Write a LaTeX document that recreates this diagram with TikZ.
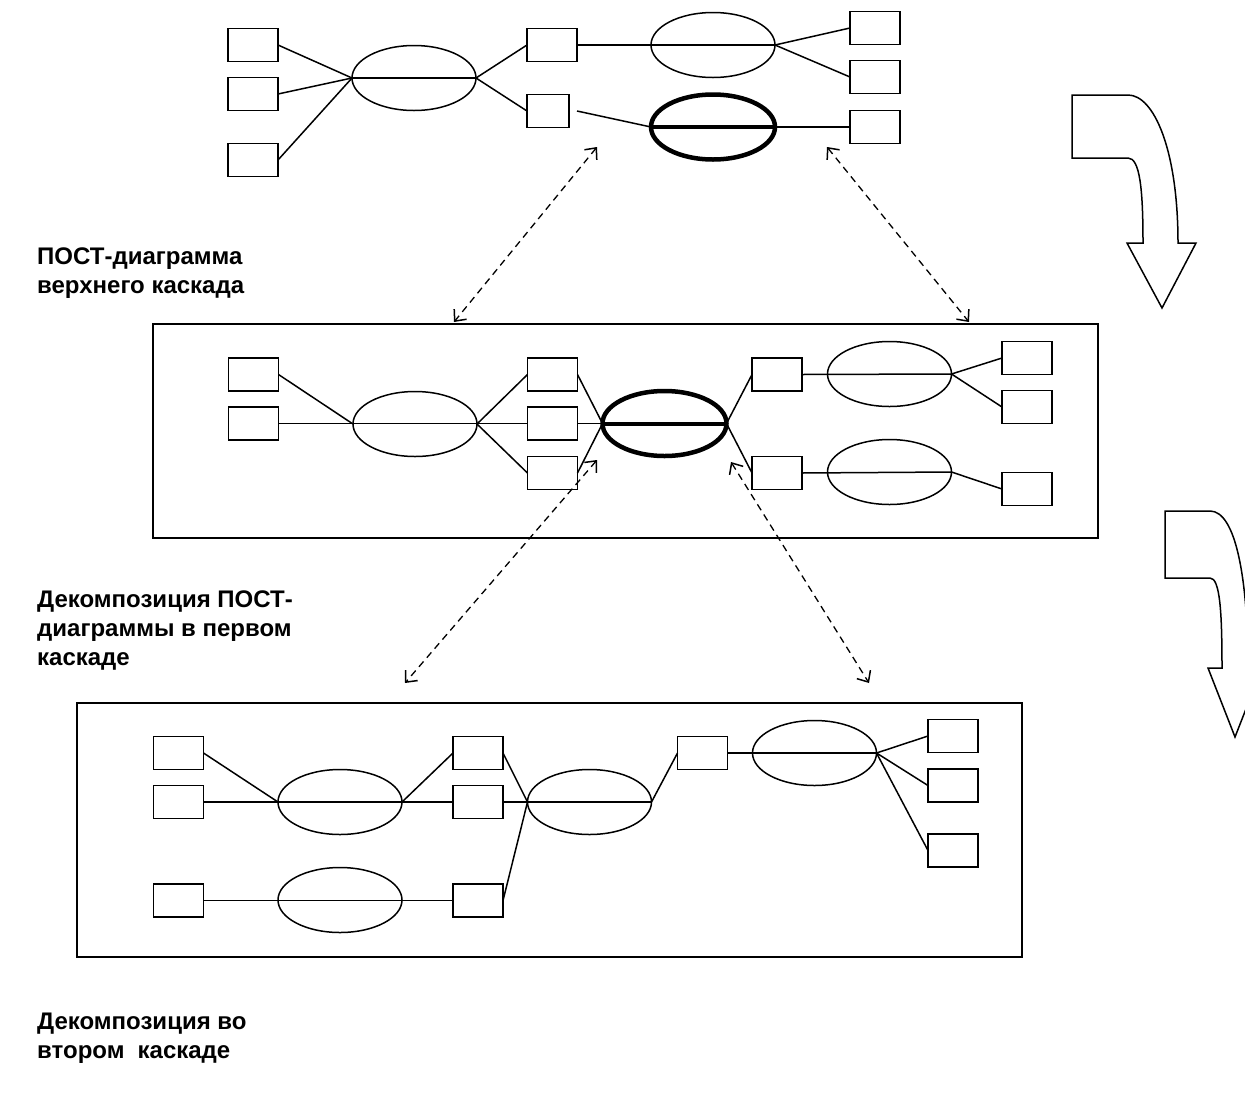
\documentclass[tikz,border=0pt]{standalone}
\usepackage{fontspec}
\setmainfont{Liberation Sans}
\usetikzlibrary{shapes.geometric,arrows.meta}
\begin{document}
\begin{tikzpicture}[x=1pt,y=-1pt,
  lw/.style={line width=1.5pt},
  bx/.style={draw,lw,minimum width=50pt,minimum height=33pt,inner sep=0pt,outer sep=0pt},
  bxn/.style={bx,minimum width=42pt},
  el/.style={draw,lw,ellipse,minimum width=124pt,minimum height=65pt,inner sep=0pt,outer sep=0pt},
  elt/.style={el,line width=4.5pt},
  ln/.style={lw},
  lnt/.style={line width=4pt},
  frm/.style={draw,line width=1.7pt,inner sep=0pt,outer sep=0pt},
  dsh/.style={line width=1.3pt,dash pattern=on 7pt off 5pt,{Straight Barb[length=9pt,width=16pt,line width=1.5pt]}-{Straight Barb[length=9pt,width=16pt,line width=1.5pt]}},
  lbl/.style={anchor=north west,align=left,inner sep=0pt,font=\bfseries\fontsize{24}{29}\selectfont},
  bigarr/.style={draw,lw,line join=miter}
]
\useasboundingbox (0,0) rectangle (1245,1101);
\clip (0,0) rectangle (1245,1101);

% ---------- top diagram ----------
\node[bx] (t1) at (253,45) {};
\node[bx] (t2) at (253,94) {};
\node[bx] (t3) at (253,160) {};
\node[el] (te1) at (414,78) {};
\node[bx] (t4) at (552,45) {};
\node[bxn] (t5) at (548,111) {};
\node[el] (te2) at (713,45) {};
\node[elt] (te3) at (713,127) {};
\node[bx] (t6) at (875,28) {};
\node[bx] (t7) at (875,77) {};
\node[bx] (t8) at (875,127) {};
\coordinate (tf) at (577,111);

\draw[ln] (t1.east) -- (te1.west);
\draw[ln] (t2.east) -- (te1.west);
\draw[ln] (t3.east) -- (te1.west);
\draw[ln] (te1.west) -- (te1.east);
\draw[ln] (te1.east) -- (t4.west);
\draw[ln] (te1.east) -- (t5.west);
\draw[ln] (t4.east) -- (te2.east);
\draw[ln] (te2.east) -- (t6.west);
\draw[ln] (te2.east) -- (t7.west);
\draw[ln] (tf) -- (te3.west);
\draw[lnt] (te3.west) -- (te3.east);
\draw[ln] (te3.east) -- (t8.west);

% ---------- middle diagram ----------
\node[frm,minimum width=945pt,minimum height=214pt] (mf) at (625.5,431) {};
\node[bx] (m1) at (253.5,374.5) {};
\node[bx] (m2) at (253.5,423.5) {};
\node[el] (me1) at (415,424) {};
\node[bx] (m3) at (552.5,374.5) {};
\node[bx] (m4) at (552.5,423.5) {};
\node[bx] (m5) at (552.5,473) {};
\node[elt] (me2) at (664.5,423.5) {};
\node[bx] (m6) at (777,374.5) {};
\node[bx] (m7) at (777,473) {};
\node[el] (me3) at (889.5,374) {};
\node[el] (me4) at (889.5,472) {};
\node[bx] (m8) at (1027,358) {};
\node[bx] (m9) at (1027,407) {};
\node[bx] (m10) at (1027,489) {};

\draw[ln] (m1.east) -- (me1.west);
\draw[ln] (m2.east) -- (m4.west);
\draw[ln] (me1.east) -- (m3.west);
\draw[ln] (me1.east) -- (m5.west);
\draw[ln] (m3.east) -- (me2.west);
\draw[ln] (m4.east) -- (me2.west);
\draw[ln] (m5.east) -- (me2.west);
\draw[lnt] (me2.west) -- (me2.east);
\draw[ln] (me2.east) -- (m6.west);
\draw[ln] (me2.east) -- (m7.west);
\draw[ln] (m6.east) -- (me3.east);
\draw[ln] (m7.east) -- (me4.east);
\draw[ln] (me3.east) -- (m8.west);
\draw[ln] (me3.east) -- (m9.west);
\draw[ln] (me4.east) -- (m10.west);

% ---------- bottom diagram ----------
\node[frm,minimum width=945pt,minimum height=254pt] (bf) at (549.5,830) {};
\node[bx] (b1) at (178.5,753) {};
\node[bx] (b2) at (178.5,802) {};
\node[bx] (b3) at (178.5,900.5) {};
\node[el] (be1) at (340,802) {};
\node[el] (be2) at (340,900) {};
\node[bx] (b4) at (478,753) {};
\node[bx] (b5) at (478,802) {};
\node[bx] (b6) at (478,900.5) {};
\node[el] (be3) at (589.5,802) {};
\node[bx] (b7) at (702.5,753) {};
\node[el] (be4) at (814.5,753) {};
\node[bx] (b8) at (953,736) {};
\node[bx] (b9) at (953,785.5) {};
\node[bx] (b10) at (953,850.5) {};

\draw[ln] (b1.east) -- (be1.west);
\draw[ln] (b2.east) -- (b5.west);
\draw[ln] (be1.east) -- (b4.west);
\draw[ln] (b3.east) -- (b6.west);
\draw[ln] (b4.east) -- (be3.west);
\draw[ln] (b5.east) -- (be3.east);
\draw[ln] (b6.east) -- (be3.west);
\draw[ln] (be3.east) -- (b7.west);
\draw[ln] (b7.east) -- (be4.east);
\draw[ln] (be4.east) -- (b8.west);
\draw[ln] (be4.east) -- (b9.west);
\draw[ln] (be4.east) -- (b10.west);

% ---------- dashed correspondences ----------
\coordinate (d1a) at (597,147); \coordinate (d1b) at (454,322);
\coordinate (d2a) at (827,147); \coordinate (d2b) at (969,322);
\coordinate (d3a) at (597,460); \coordinate (d3b) at (405,683);
\coordinate (d4a) at (731,462); \coordinate (d4b) at (869,683);
\draw[dsh] (d1a) -- (d1b);
\draw[dsh] (d2a) -- (d2b);
\draw[dsh] (d3a) -- (d3b);
\draw[dsh] (d4a) -- (d4b);

% ---------- curved block arrows ----------
\draw[bigarr] (1072,95) -- (1128,95) .. controls (1154,95) and (1178,150) .. (1178,243)
  -- (1196,243) -- (1162,308) -- (1127,243) -- (1143,243)
  .. controls (1143,190) and (1140,158) .. (1128,158) -- (1072,158) -- cycle;
\draw[bigarr] (1165,511) -- (1210,511) .. controls (1236,511) and (1248,580) .. (1248,668)
  -- (1262,668) -- (1235,737) -- (1208,668) -- (1222,668)
  .. controls (1222,612) and (1220,578) .. (1210,578) -- (1165,578) -- cycle;

% ---------- labels ----------
\node[lbl] (l1) at (37,248) {ПОСТ-диаграмма\\верхнего каскада};
\node[lbl] (l2) at (37,591) {Декомпозиция ПОСТ-\\диаграммы в первом\\каскаде};
\node[lbl] (l3) at (37,1013) {Декомпозиция во\\втором\hspace{0.55em}каскаде};
\end{tikzpicture}
\end{document}
